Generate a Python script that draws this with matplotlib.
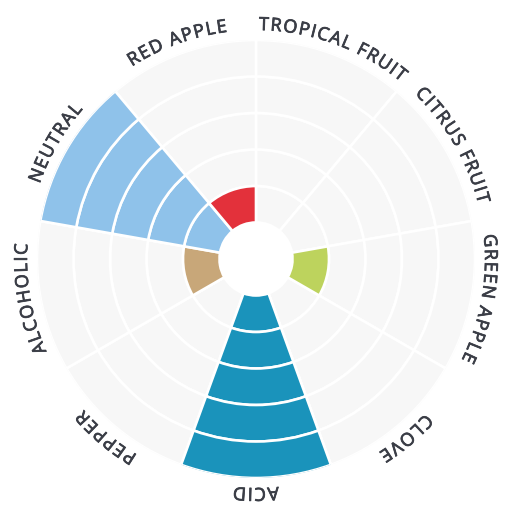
import numpy as np
import matplotlib
matplotlib.use("Agg")
import matplotlib.pyplot as plt
import matplotlib.patheffects as pe
from matplotlib.font_manager import FontProperties, findfont, get_font

categories = ["TROPICAL FRUIT", "CITRUS FRUIT", "GREEN APPLE", "CLOVE", "ACID",
              "PEPPER", "ALCOHOLIC", "NEUTRAL", "RED APPLE"]
values = [0, 0, 1, 0, 5, 0, 1, 5, 1]
colors = ["#8fc2ea", "#8fc2ea", "#bdd35d", "#8fc2ea", "#1a93bb",
          "#8fc2ea", "#c8a779", "#8fc2ea", "#e3313b"]
max_value = 5

DPI = 100
fig = plt.figure(figsize=(5.12, 5.12), dpi=DPI)
R_PX = 219.0
cx, cy = 256.0, 259.0
ax = fig.add_axes([(cx - R_PX) / 512, (512 - cy - R_PX) / 512, 2 * R_PX / 512, 2 * R_PX / 512],
                  projection="polar")
ax.set_theta_zero_location("N")
ax.set_theta_direction(-1)
ax.set_ylim(0, max_value + 1)
ax.patch.set_visible(False)
ax.spines["polar"].set_visible(False)
ax.grid(False)
ax.set_xticks([])
ax.set_yticks([])

n = len(categories)
width = 2 * np.pi / n
thetas = np.arange(n) * width + width / 2
lw = 1.9

# background grid segments
for t in thetas:
    for k in range(max_value):
        ax.bar(t, 1, width=width, bottom=1 + k, color="#f7f7f7",
               edgecolor="white", linewidth=lw, align="center")

# data bars, segmented per unit
for t, v, c in zip(thetas, values, colors):
    for k in range(int(v)):
        ax.bar(t, 1, width=width, bottom=1 + k, color=c,
               edgecolor="white", linewidth=lw, align="center", zorder=3)

# curved labels
FS = 13
TXT = "#3a3d46"
fp = FontProperties(family="Open Sans", weight="normal", size=FS)
font = get_font(findfont(fp))
font.set_size(FS, DPI)

def adv(ch):
    g = font.load_char(ord(ch))
    return g.linearHoriAdvance / 65536.0

tracking = 1.4
r_base_px = 229.0
r_base = r_base_px / R_PX * (max_value + 1)
effects = [pe.withStroke(linewidth=0.55, foreground=TXT)]
for t, label in zip(thetas, categories):
    advs = [adv(ch) for ch in label]
    total = sum(advs) + tracking * (len(label) - 1)
    pos = 0.0
    for ch, a in zip(label, advs):
        off = pos + a / 2 - total / 2
        th = t + off / r_base_px
        pos += a + tracking
        if ch == " ":
            continue
        ax.text(th, r_base, ch, fontproperties=fp, color=TXT,
                rotation=-np.degrees(th), rotation_mode="anchor",
                ha="center", va="baseline", clip_on=False,
                path_effects=effects)

fig.savefig("out.png", dpi=DPI)
